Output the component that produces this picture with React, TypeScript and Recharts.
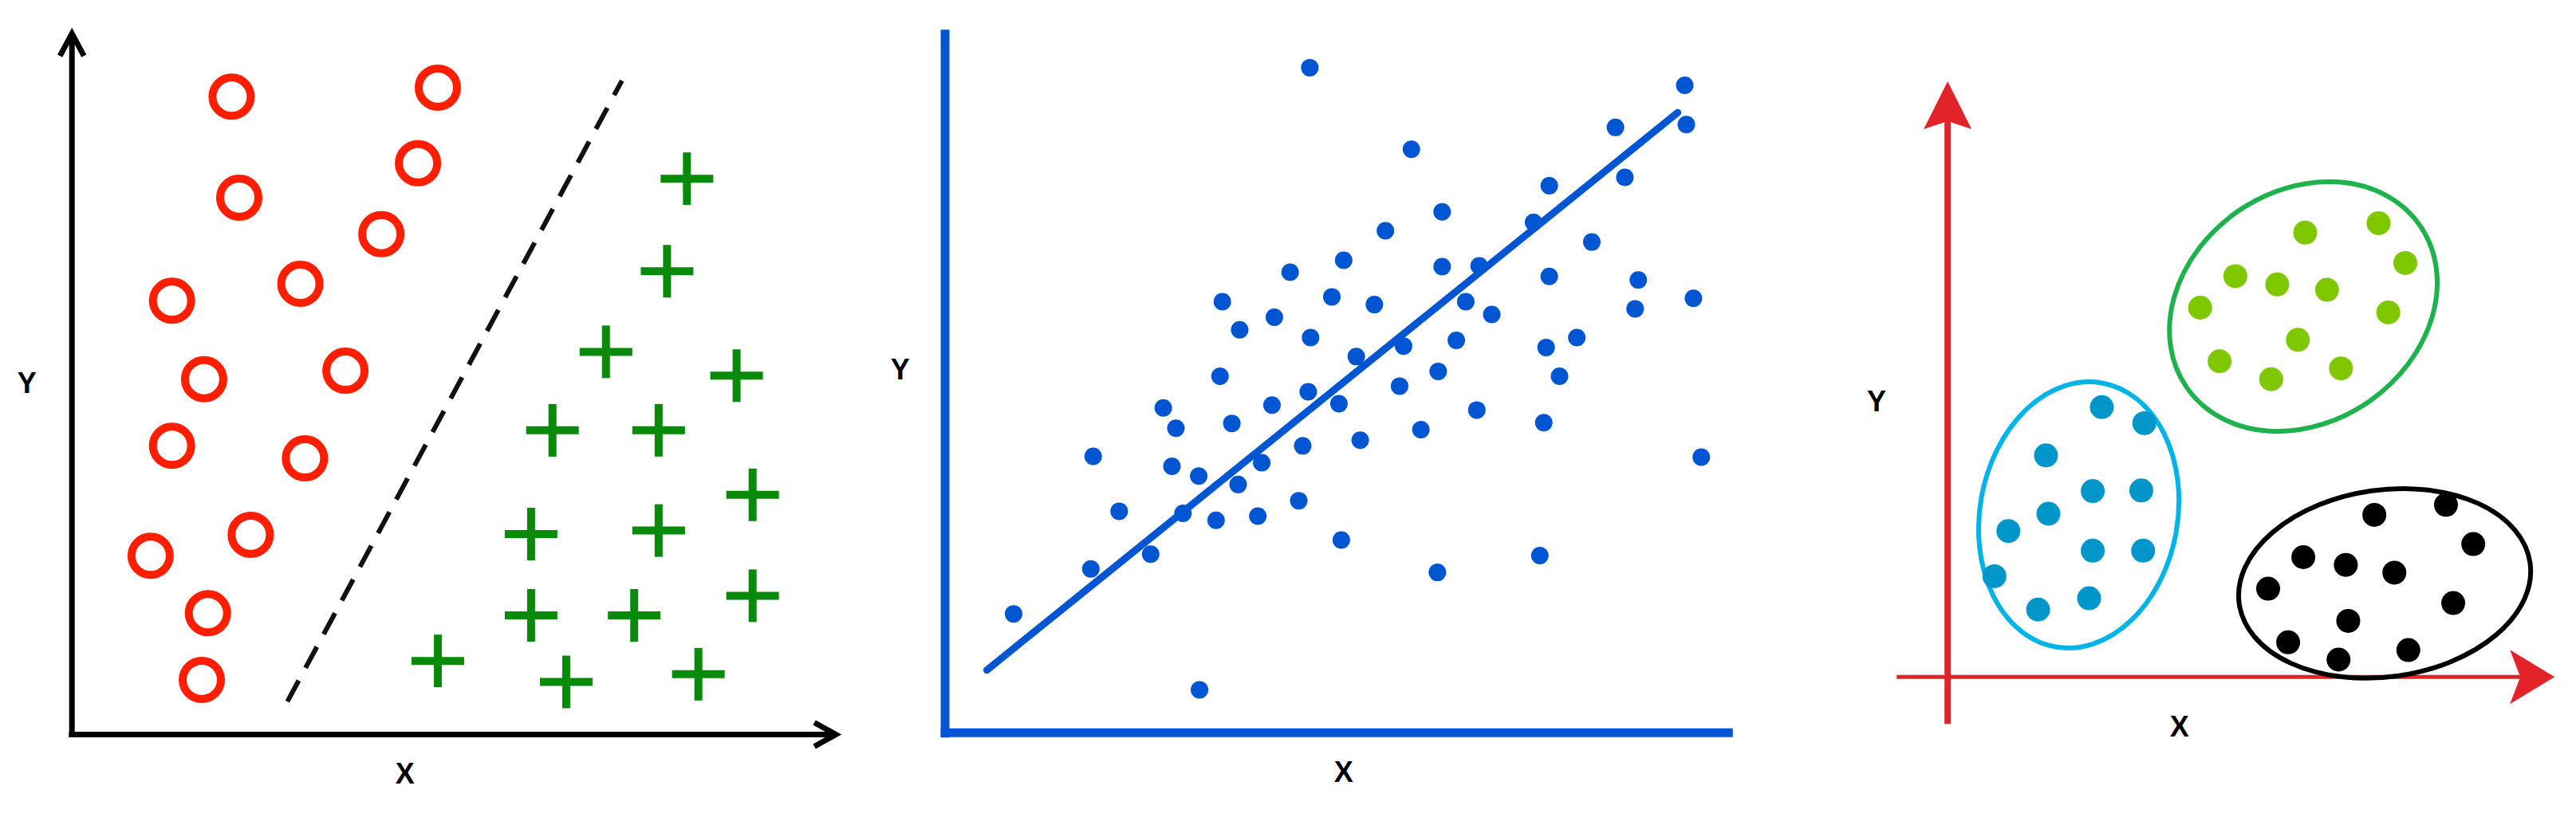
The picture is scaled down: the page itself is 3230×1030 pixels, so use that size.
import React from "react";
import {
  ScatterChart,
  Scatter,
  XAxis,
  YAxis,
  ReferenceLine,
  ReferenceDot,
} from "recharts";

type Pt = { x: number; y: number };
type Blob = { x: number; y: number; rx: number; ry: number; angle: number };

// panel 1 - classification (axis units 0..100)
const redCircles: Pt[] = [
  { x: 20.9, y: 91.0 }, { x: 47.9, y: 92.3 }, { x: 21.9, y: 76.6 },
  { x: 45.3, y: 81.5 }, { x: 40.5, y: 71.4 }, { x: 29.9, y: 64.3 },
  { x: 13.1, y: 61.9 }, { x: 17.3, y: 50.7 }, { x: 35.8, y: 51.9 },
  { x: 13.1, y: 41.2 }, { x: 30.5, y: 39.4 }, { x: 10.3, y: 25.5 },
  { x: 23.4, y: 28.5 }, { x: 17.8, y: 17.3 }, { x: 17.0, y: 7.8 },
];
const greenPluses: Pt[] = [
  { x: 80.5, y: 79.3 }, { x: 77.9, y: 66.1 }, { x: 69.9, y: 54.6 },
  { x: 87.0, y: 51.2 }, { x: 62.9, y: 43.4 }, { x: 76.8, y: 43.4 },
  { x: 89.1, y: 34.2 }, { x: 60.1, y: 28.6 }, { x: 76.8, y: 29.1 },
  { x: 89.1, y: 19.8 }, { x: 60.1, y: 17.0 }, { x: 73.6, y: 17.0 },
  { x: 47.9, y: 10.5 }, { x: 64.7, y: 7.5 }, { x: 82.0, y: 8.6 },
];
const boundary: Pt[] = [{ x: 28.2, y: 4.7 }, { x: 72.0, y: 93.3 }];

// panel 2 - regression
const blueDots: Pt[] = [
  { x: 46.3, y: 94.6 }, { x: 93.9, y: 92.1 }, { x: 94.1, y: 86.5 }, { x: 85.1, y: 86.1 },
  { x: 59.2, y: 83.0 }, { x: 86.3, y: 79.0 }, { x: 76.7, y: 77.8 }, { x: 63.1, y: 74.1 },
  { x: 74.7, y: 72.6 }, { x: 55.9, y: 71.4 }, { x: 82.1, y: 69.8 }, { x: 50.6, y: 67.2 },
  { x: 43.8, y: 65.5 }, { x: 63.1, y: 66.3 }, { x: 67.8, y: 66.4 }, { x: 76.7, y: 64.9 },
  { x: 88.0, y: 64.4 }, { x: 95.0, y: 61.8 }, { x: 35.2, y: 61.3 }, { x: 49.1, y: 62.0 },
  { x: 54.5, y: 60.9 }, { x: 66.1, y: 61.3 }, { x: 87.6, y: 60.3 }, { x: 69.4, y: 59.5 },
  { x: 41.8, y: 59.1 }, { x: 37.4, y: 57.3 }, { x: 46.4, y: 56.2 }, { x: 80.2, y: 56.2 },
  { x: 64.9, y: 55.8 }, { x: 52.2, y: 53.5 }, { x: 58.2, y: 55.0 }, { x: 76.3, y: 54.8 },
  { x: 34.9, y: 50.7 }, { x: 62.6, y: 51.4 }, { x: 78.0, y: 50.7 }, { x: 57.7, y: 49.3 },
  { x: 46.1, y: 48.5 }, { x: 27.7, y: 46.2 }, { x: 41.5, y: 46.6 }, { x: 50.0, y: 46.8 },
  { x: 67.5, y: 45.9 }, { x: 29.3, y: 43.3 }, { x: 36.4, y: 44.0 }, { x: 76.0, y: 44.1 },
  { x: 60.4, y: 43.1 }, { x: 52.7, y: 41.6 }, { x: 45.4, y: 40.8 }, { x: 18.8, y: 39.3 },
  { x: 96.0, y: 39.2 }, { x: 28.8, y: 37.9 }, { x: 40.2, y: 38.4 }, { x: 32.2, y: 36.5 },
  { x: 37.2, y: 35.3 }, { x: 44.9, y: 33.0 }, { x: 22.1, y: 31.5 }, { x: 30.2, y: 31.2 },
  { x: 34.4, y: 30.2 }, { x: 39.7, y: 30.8 }, { x: 50.3, y: 27.4 }, { x: 75.5, y: 25.2 },
  { x: 26.1, y: 25.4 }, { x: 18.5, y: 23.3 }, { x: 62.5, y: 22.8 }, { x: 8.7, y: 16.9 },
  { x: 32.3, y: 6.1 },
];
const fitLine: Pt[] = [{ x: 5.3, y: 8.9 }, { x: 93.0, y: 88.2 }];

// panel 3 - clustering
const cyanDots: Pt[] = [
  { x: 25.4, y: 45.3 }, { x: 32.4, y: 42.6 }, { x: 16.2, y: 37.2 }, { x: 23.9, y: 31.2 },
  { x: 31.9, y: 31.3 }, { x: 16.6, y: 27.4 }, { x: 10.0, y: 24.5 }, { x: 23.9, y: 21.2 },
  { x: 32.2, y: 21.2 }, { x: 7.7, y: 16.9 }, { x: 14.9, y: 11.3 }, { x: 23.3, y: 13.2 },
];
const limeDots: Pt[] = [
  { x: 58.9, y: 74.6 }, { x: 71.0, y: 76.2 }, { x: 75.4, y: 69.5 }, { x: 47.4, y: 67.3 },
  { x: 54.3, y: 65.9 }, { x: 62.5, y: 65.0 }, { x: 41.6, y: 62.0 }, { x: 72.6, y: 61.2 },
  { x: 57.7, y: 56.6 }, { x: 44.8, y: 53.0 }, { x: 53.3, y: 50.0 }, { x: 64.8, y: 51.8 },
];
const blackDots: Pt[] = [
  { x: 70.3, y: 27.2 }, { x: 82.1, y: 28.9 }, { x: 86.6, y: 22.3 }, { x: 58.6, y: 20.1 },
  { x: 65.6, y: 18.8 }, { x: 73.6, y: 17.5 }, { x: 52.8, y: 14.8 }, { x: 83.3, y: 12.4 },
  { x: 66.0, y: 9.4 }, { x: 56.1, y: 5.8 }, { x: 64.4, y: 2.9 }, { x: 75.9, y: 4.5 },
];
const cyanBlob: Blob[] = [{ x: 21.6, y: 27.2, rx: 16.3, ry: 22.5, angle: 10 }];
const limeBlob: Blob[] = [{ x: 58.6, y: 62.2, rx: 23.4, ry: 19.4, angle: -35 }];
const blackBlob: Blob[] = [{ x: 72.0, y: 15.7, rx: 24.2, ry: 15.7, angle: -8 }];

// axis captions
const captions1: (Pt & { t: string })[] = [{ t: "Y", x: -5.9, y: 50.2 }, { t: "X", x: 43.6, y: -5.6 }];
const captions2: (Pt & { t: string })[] = [{ t: "Y", x: -5.7, y: 51.7 }, { t: "X", x: 50.6, y: -5.6 }];
const captions3: (Pt & { t: string })[] = [{ t: "Y", x: -11.7, y: 46.3 }, { t: "X", x: 38.2, y: -8.3 }];

type Box = { left: number; top: number; width: number; height: number; x: [number, number]; y: [number, number] };

const box1: Box = { left: 4, top: 7, width: 1092, height: 1020, x: [-9, 105], y: [-12, 104] };
const box2: Box = { left: 1106, top: 2, width: 1126, height: 1023, x: [-8, 106], y: [-12, 104] };
const box3: Box = { left: 2328, top: 5, width: 898, height: 1016, x: [-15, 103], y: [-23, 113] };

const FONT = "'Liberation Sans', Arial, Helvetica, sans-serif";

const ring = (p: any) => (
  <circle cx={p.cx} cy={p.cy} r={24} fill="none" stroke="#ff1e00" strokeWidth={10} />
);
const plus = (p: any) => (
  <g stroke="#0a8a0a" strokeWidth={10}>
    <line x1={p.cx - 33} y1={p.cy} x2={p.cx + 33} y2={p.cy} />
    <line x1={p.cx} y1={p.cy - 33} x2={p.cx} y2={p.cy + 33} />
  </g>
);
const dot = (color: string, r: number) => (p: any) => <circle cx={p.cx} cy={p.cy} r={r} fill={color} />;
const blob = (color: string, box: Box) => (p: any) => {
  const kx = box.width / (box.x[1] - box.x[0]);
  const ky = box.height / (box.y[1] - box.y[0]);
  return (
    <ellipse
      cx={p.cx}
      cy={p.cy}
      rx={p.payload.rx * kx}
      ry={p.payload.ry * ky}
      transform={`rotate(${p.payload.angle} ${p.cx} ${p.cy})`}
      fill="none"
      stroke={color}
      strokeWidth={6}
    />
  );
};
const caption = (t: string) => (p: any) => (
  <text x={p.cx} y={p.cy} textAnchor="middle" dominantBaseline="central" fontFamily={FONT} fontSize={36} fontWeight="bold" fill="#000">
    {t}
  </text>
);
const chevronUp = (p: any) => (
  <polyline points={`${p.cx - 15},${p.cy + 28} ${p.cx},${p.cy} ${p.cx + 15},${p.cy + 28}`} fill="none" stroke="#000" strokeWidth={7} />
);
const chevronRight = (p: any) => (
  <polyline points={`${p.cx - 27},${p.cy - 15} ${p.cx},${p.cy} ${p.cx - 27},${p.cy + 15}`} fill="none" stroke="#000" strokeWidth={7} />
);
const headUp = (p: any) => (
  <polygon points={`${p.cx},${p.cy} ${p.cx + 30},${p.cy + 60} ${p.cx},${p.cy + 50} ${p.cx - 30},${p.cy + 60}`} fill="#e3232a" />
);
const headRight = (p: any) => (
  <polygon points={`${p.cx},${p.cy} ${p.cx - 56},${p.cy - 34} ${p.cx - 43},${p.cy} ${p.cx - 56},${p.cy + 34}`} fill="#e3232a" />
);

function Panel({ box, children }: { box: Box; children: React.ReactNode }) {
  return (
    <div style={{ position: "absolute", left: box.left, top: box.top }}>
      <ScatterChart width={box.width} height={box.height} margin={{ top: 0, right: 0, bottom: 0, left: 0 }}>
        <XAxis type="number" dataKey="x" domain={box.x} hide allowDataOverflow />
        <YAxis type="number" dataKey="y" domain={box.y} hide allowDataOverflow />
        {children}
      </ScatterChart>
    </div>
  );
}

export default function App() {
  return (
    <div style={{ position: "absolute", left: 0, top: 0, width: 3230, height: 1030, background: "#fff", overflow: "hidden" }}>
      <Panel box={box1}>
        <ReferenceLine segment={[{ x: 0, y: -0.4 }, { x: 0, y: 99.6 }]} stroke="#000" strokeWidth={7} />
        <ReferenceLine segment={[{ x: -0.4, y: 0 }, { x: 99.7, y: 0 }]} stroke="#000" strokeWidth={7} />
        <ReferenceDot x={0} y={100} shape={chevronUp} />
        <ReferenceDot x={100} y={0} shape={chevronRight} />
        <ReferenceLine segment={boundary} stroke="#111" strokeWidth={6} strokeDasharray="30 18" />
        <Scatter data={redCircles} shape={ring} isAnimationActive={false} />
        <Scatter data={greenPluses} shape={plus} isAnimationActive={false} />
        {captions1.map((c) => (
          <ReferenceDot key={c.t} x={c.x} y={c.y} shape={caption(c.t)} />
        ))}
      </Panel>
      <Panel box={box2}>
        <ReferenceLine segment={[{ x: 0, y: -0.7 }, { x: 0, y: 100 }]} stroke="#0055d2" strokeWidth={11} />
        <ReferenceLine segment={[{ x: -0.55, y: 0 }, { x: 100, y: 0 }]} stroke="#0055d2" strokeWidth={11} />
        <ReferenceLine segment={fitLine} stroke="#0055d2" strokeWidth={9} strokeLinecap="round" />
        <Scatter data={blueDots} shape={dot("#0055d2", 11)} isAnimationActive={false} />
        {captions2.map((c) => (
          <ReferenceDot key={c.t} x={c.x} y={c.y} shape={caption(c.t)} />
        ))}
      </Panel>
      <Panel box={box3}>
        <ReferenceLine segment={[{ x: 0, y: -7.9 }, { x: 0, y: 93.4 }]} stroke="#e3232a" strokeWidth={8} />
        <ReferenceLine segment={[{ x: -8.4, y: 0 }, { x: 94.4, y: 0 }]} stroke="#e3232a" strokeWidth={5} />
        <ReferenceDot x={0} y={100} shape={headUp} />
        <ReferenceDot x={100} y={0} shape={headRight} />
        <Scatter data={cyanBlob} shape={blob("#00b4e8", box3)} isAnimationActive={false} />
        <Scatter data={limeBlob} shape={blob("#1eb24c", box3)} isAnimationActive={false} />
        <Scatter data={blackBlob} shape={blob("#000", box3)} isAnimationActive={false} />
        <Scatter data={cyanDots} shape={dot("#0096c9", 15)} isAnimationActive={false} />
        <Scatter data={limeDots} shape={dot("#7fc800", 15)} isAnimationActive={false} />
        <Scatter data={blackDots} shape={dot("#000", 15)} isAnimationActive={false} />
        {captions3.map((c) => (
          <ReferenceDot key={c.t} x={c.x} y={c.y} shape={caption(c.t)} />
        ))}
      </Panel>
    </div>
  );
}
